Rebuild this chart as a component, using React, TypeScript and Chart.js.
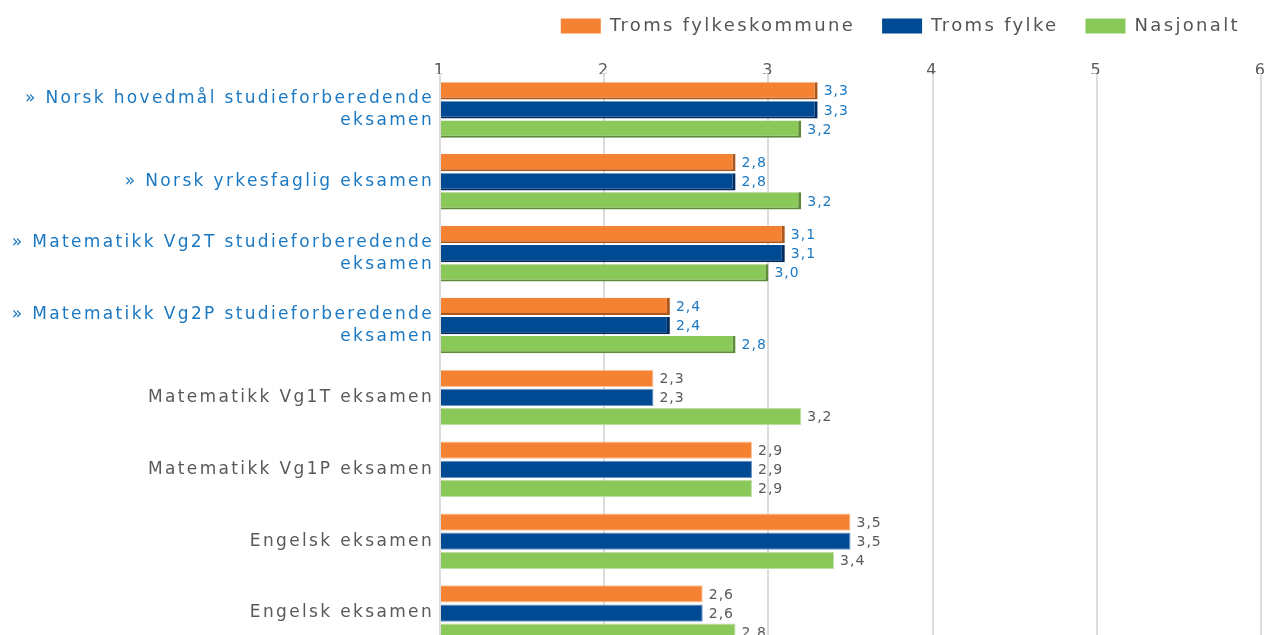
import React, { useEffect, useRef } from 'react';
import { Chart, registerables } from 'chart.js';

Chart.register(...registerables);

const categories: (string | string[])[] = [
  ['» Norsk hovedmål studieforberedende', 'eksamen'],
  '» Norsk yrkesfaglig eksamen',
  ['» Matematikk Vg2T studieforberedende', 'eksamen'],
  ['» Matematikk Vg2P studieforberedende', 'eksamen'],
  'Matematikk Vg1T eksamen',
  'Matematikk Vg1P eksamen',
  'Engelsk eksamen',
  'Engelsk eksamen',
];
const linkedCategories = [true, true, true, true, false, false, false, false];
const seriesNames = ['Troms fylkeskommune', 'Troms fylke', 'Nasjonalt'];
const tromsFylkeskommune = [3.3, 2.8, 3.1, 2.4, 2.3, 2.9, 3.5, 2.6];
const tromsFylke = [3.3, 2.8, 3.1, 2.4, 2.3, 2.9, 3.5, 2.6];
const nasjonalt = [3.2, 3.2, 3.0, 2.8, 3.2, 2.9, 3.4, 2.8];
const xMin = 1;
const xMax = 6;

const LINK_BLUE = '#1b78c2';
const GREY = '#595959';
const FONT = '"DejaVu Sans", Verdana, sans-serif';
const SPACING = '2.35px';

const seriesColors = ['#f58233', '#004a93', '#8bc85a'];
const seriesDark = ['#a9571f', '#002b5c', '#5c8c37'];
const seriesLight = ['#f9c39a', '#6b93c2', '#bfe0a3'];

const letterSpacingPlugin = {
  id: 'letterSpacing',
  beforeUpdate(chart: any) {
    chart.ctx.letterSpacing = SPACING;
  },
  beforeLayout(chart: any) {
    chart.ctx.letterSpacing = SPACING;
  },
  beforeDraw(chart: any) {
    chart.ctx.letterSpacing = SPACING;
  },
};

const valueLabelPlugin = {
  id: 'valueLabels',
  afterDatasetsDraw(chart: any) {
    const ctx = chart.ctx;
    ctx.save();
    ctx.letterSpacing = '1px';
    ctx.font = `14px ${FONT}`;
    ctx.textBaseline = 'middle';
    ctx.textAlign = 'left';
    chart.data.datasets.forEach((ds: any, di: number) => {
      const meta = chart.getDatasetMeta(di);
      meta.data.forEach((bar: any, i: number) => {
        const v = ds.data[i] as number;
        ctx.fillStyle = linkedCategories[i] ? LINK_BLUE : GREY;
        ctx.fillText(v.toFixed(1).replace('.', ','), bar.x + 6, bar.y + 1);
      });
    });
    ctx.restore();
  },
};

function makeDataset(label: string, data: number[], si: number) {
  return {
    label,
    data,
    base: xMin,
    backgroundColor: seriesColors[si],
    borderColor: (c: any) =>
      c.type !== 'data' ? seriesColors[si] : linkedCategories[c.dataIndex] ? seriesDark[si] : seriesLight[si],
    borderWidth: (c: any) =>
      c.type !== 'data'
        ? 0
        : linkedCategories[c.dataIndex]
        ? { top: 0, right: 3, bottom: 2, left: 0 }
        : { top: 1, right: 1, bottom: 1, left: 0 },
    borderSkipped: false,
    categoryPercentage: 0.8,
    barPercentage: 0.9,
  };
}

export default function App() {
  const canvasRef = useRef<HTMLCanvasElement | null>(null);

  useEffect(() => {
    if (!canvasRef.current) return;
    Chart.defaults.font.family = FONT;
    const chart = new Chart(canvasRef.current, {
      type: 'bar',
      data: {
        labels: categories,
        datasets: [
          makeDataset(seriesNames[0], tromsFylkeskommune, 0),
          makeDataset(seriesNames[1], tromsFylke, 1),
          makeDataset(seriesNames[2], nasjonalt, 2),
        ] as any,
      },
      options: {
        indexAxis: 'y',
        animation: false,
        responsive: false,
        devicePixelRatio: 1,
        layout: { padding: { top: -10, right: 2, bottom: 20, left: 0 } },
        plugins: {
          legend: {
            position: 'top',
            align: 'end',
            labels: {
              boxWidth: 40,
              boxHeight: 15,
              padding: 27,
              color: '#555555',
              font: { size: 18 },
              generateLabels: (chart: any) =>
                Chart.defaults.plugins.legend.labels.generateLabels(chart).map((item: any, i: number) => ({
                  ...item,
                  fillStyle: seriesColors[i],
                  strokeStyle: seriesColors[i],
                  lineWidth: 0,
                })),
            },
          },
          tooltip: { enabled: false },
        },
        scales: {
          x: {
            position: 'top',
            min: xMin,
            max: xMax,
            ticks: {
              stepSize: 1,
              color: GREY,
              font: { size: 16, lineHeight: 1 },
              padding: -5,
            },
            grid: { color: '#dcdcdc', lineWidth: 2, drawTicks: false },
            border: { display: false },
            afterFit: (scale: any) => {
              scale.height = 29;
              scale.paddingRight = 8;
            },
          },
          y: {
            ticks: {
              autoSkip: false,
              padding: 6,
              font: { size: 17, lineHeight: 22 / 17 },
              color: (c: any) => (linkedCategories[c.index] ? LINK_BLUE : GREY),
            },
            grid: { display: false, drawTicks: false },
            border: { display: false },
            afterFit: (scale: any) => {
              scale.width = 440;
            },
          },
        },
      } as any,
      plugins: [letterSpacingPlugin, valueLabelPlugin],
    });
    return () => chart.destroy();
  }, []);

  return (
    <div
      style={{
        position: 'fixed',
        top: 0,
        left: 0,
        width: 1269,
        height: 635,
        overflow: 'hidden',
        background: '#ffffff',
      }}
    >
      <canvas ref={canvasRef} width={1269} height={677} style={{ display: 'block', width: 1269, height: 677 }} />
    </div>
  );
}
